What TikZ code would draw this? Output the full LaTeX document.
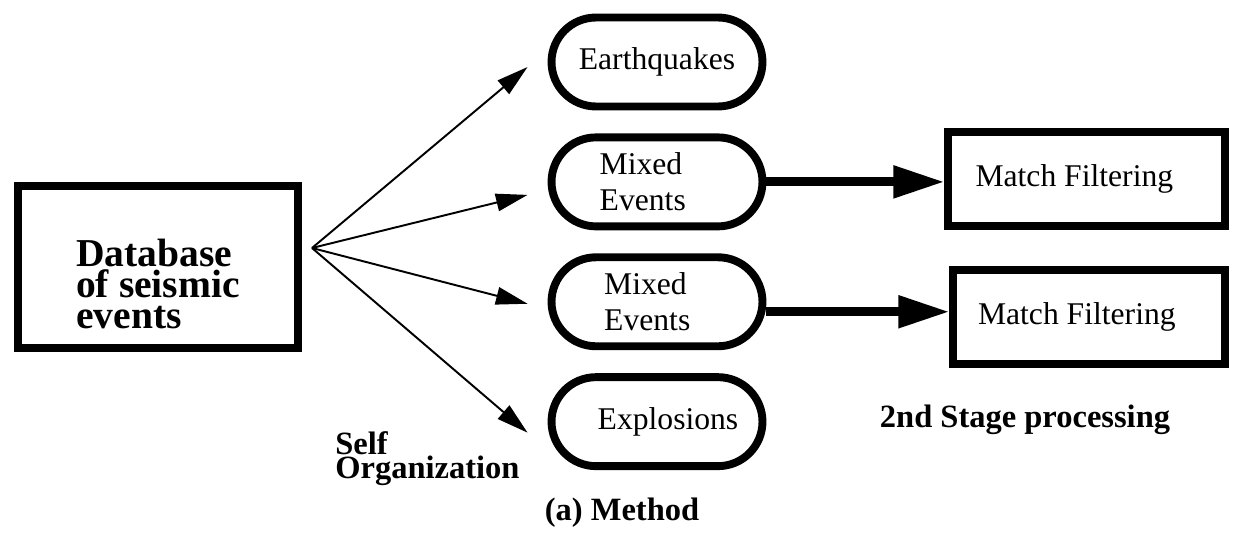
\documentclass[tikz,border=0pt]{standalone}
\usepackage{fontspec}
\setmainfont{Liberation Serif}
\usepackage{tikz}
\usetikzlibrary{positioning, arrows.meta, calc}

\begin{document}
\begin{tikzpicture}[
        x=0.02cm, y=-0.02cm,
        dbbox/.style={draw, rectangle, line width=4.5pt, minimum width=5.6cm, minimum height=3.24cm, inner sep=0pt, align=left, font=\fontsize{22.5}{17.6}\selectfont\bfseries},
        oval/.style={draw, rectangle, rounded corners=0.89cm, line width=4.5pt, minimum width=4.22cm, minimum height=1.78cm, align=left, font=\fontsize{18}{20.4}\selectfont},
        mfbox/.style={draw, rectangle, line width=4.5pt, minimum height=1.88cm, font=\fontsize{18}{20.4}\selectfont},
        thinarr/.style={-{Triangle[length=18pt, width=10pt]}, line width=1.1pt},
        thickarr/.style={-{Triangle[length=29pt, width=17.5pt]}, line width=5pt},
        lbl/.style={inner sep=0pt, align=left, font=\fontsize{18.5}{13}\selectfont\bfseries}
    ]
    \useasboundingbox (0,0) rectangle (1234,534);

    % Database
    \node[dbbox] (db) at (158,267) {\rule{0pt}{35pt}Database\\of seismic\\events};
    \coordinate (fan) at (312,248);

    % Classes after self organization
    \node[oval] (eq) at (657,62) {Earthquakes};
    \node[oval] (mixa) [below=0.46cm of eq] {Mixed\hspace*{0.64cm}\\Events};
    \node[oval] (mixb) [below=0.46cm of mixa] {Mixed\hspace*{0.46cm}\\Events};
    \node[oval] (expl) [below=0.46cm of mixb] {\hspace*{0.44cm}Explosions};

    % 2nd stage
    \node[mfbox, minimum width=5.54cm] (mfa) [right=3.56cm of mixa, yshift=0.06cm] {Match Filtering\hspace*{0.5cm}};
    \node[mfbox, minimum width=5.44cm] (mfb) [right=3.66cm of mixb, yshift=-0.3cm] {Match Filtering\hspace*{0.5cm}};

    % Labels
    \node[lbl, anchor=north west] (selforg) at (335,431) {Self\\Organization};
    \node[lbl, anchor=base] (method) at (622,520) {(a) Method};
    \node[lbl, anchor=base] (stage) at (1025,427) {2nd Stage processing};

    % Arrows
    \draw[thinarr] (fan) -- ($(eq.west)+(-20,5)$);
    \draw[thinarr] (fan) -- ($(mixa.west)+(-20,13)$);
    \draw[thinarr] (fan) -- ($(mixb.west)+(-20,2)$);
    \draw[thinarr] (fan) -- ($(expl.west)+(-20,11)$);
    \draw[thickarr] (mixa.east) -- (mixa.east -| mfa.west);
    \draw[thickarr] ([yshift=-0.2cm]mixb.east) -- ([yshift=-0.2cm]mixb.east -| mfb.west);

    \end{tikzpicture}
\end{document}
